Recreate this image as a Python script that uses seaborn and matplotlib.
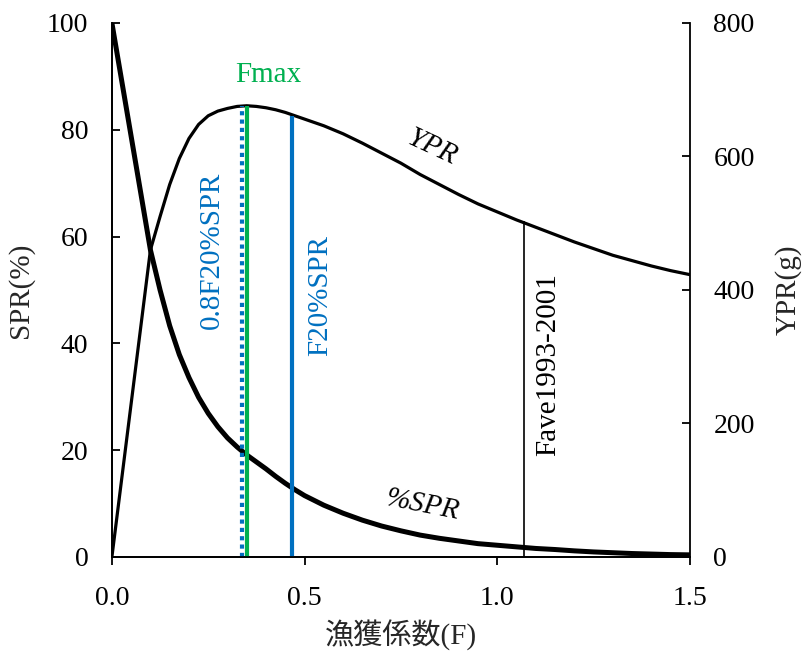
import numpy as np
import pandas as pd
import seaborn as sns
import matplotlib.pyplot as plt

# fishing mortality grid and curves
F = [0.0, 0.1, 0.125, 0.15, 0.175, 0.2, 0.225, 0.25, 0.275, 0.3, 0.325, 0.35, 0.375, 0.4,
     0.425, 0.45, 0.475, 0.5, 0.55, 0.6, 0.65, 0.7, 0.75, 0.8, 0.85, 0.9, 0.95, 1.0,
     1.05, 1.1, 1.15, 1.2, 1.25, 1.3, 1.35, 1.4, 1.45, 1.5]
spr = [100, 57.5, 50.0, 43.3, 37.9, 33.6, 29.9, 26.9, 24.4, 22.3, 20.6, 19.1, 17.8, 16.5,
       15.1, 13.8, 12.6, 11.5, 9.7, 8.2, 6.9, 5.8, 4.9, 4.1, 3.5, 3.0, 2.5, 2.2,
       1.9, 1.6, 1.4, 1.15, 0.95, 0.8, 0.65, 0.55, 0.45, 0.4]
ypr = [0, 460, 510, 558, 597, 627, 648, 661, 668, 672, 675, 676, 675, 673,
       670, 666, 661, 656, 646, 634, 620, 605, 590, 573, 558, 543, 529, 517,
       505, 494, 483, 472, 462, 452, 444, 436, 429, 423]

# reference points (F, YPR at the top of the line)
f_08f20 = 0.338
f_max = 0.351
f_20 = 0.468
f_ave = 1.07
top_08f20 = 676
top_max = 676
top_20 = 660
top_ave = 503

df = pd.DataFrame({"F": F, "SPR": spr, "YPR": ypr})

sns.set_theme(style="white")
plt.rcParams['font.family'] = ['Liberation Serif', 'Noto Sans CJK JP']
plt.rcParams['font.size'] = 20

blue = "#0070C0"
green = "#00B050"

fig = plt.figure(figsize=(8.05, 6.51), dpi=100)
ax = fig.add_axes([0.139, 0.1444, 0.718, 0.8203])
ax2 = ax.twinx()

sns.lineplot(data=df, x="F", y="SPR", ax=ax, color="black", linewidth=3.6)
sns.lineplot(data=df, x="F", y="YPR", ax=ax2, color="black", linewidth=2.3)

ax2.vlines(f_08f20, 0, top_08f20, color=blue, linewidth=3, linestyle=(0, (1, 1)))
ax2.vlines(f_max, 0, top_max, color=green, linewidth=3)
ax2.vlines(f_20, 0, top_20, color=blue, linewidth=3)
ax2.vlines(f_ave, 0, top_ave, color="black", linewidth=1.2)

ax.set_xlim(0, 1.5)
ax.set_ylim(0, 100)
ax2.set_ylim(0, 800)
ax.set_xticks([0, 0.5, 1.0, 1.5])
ax.set_xticklabels(["0.0", "0.5", "1.0", "1.5"])
ax.set_yticks([0, 20, 40, 60, 80, 100])
ax2.set_yticks([0, 200, 400, 600, 800])

for a in (ax, ax2):
    a.spines["top"].set_visible(False)
    for s in a.spines.values():
        s.set_color("black")
        s.set_linewidth(1.3)
ax.spines["right"].set_visible(False)

ax.tick_params(axis="y", direction="in", length=6, width=1.3, pad=17, labelsize=20, colors="black")
ax.tick_params(axis="x", direction="out", length=6, width=1.3, pad=15, labelsize=20, colors="black", bottom=True)
ax2.tick_params(axis="y", direction="in", length=6, width=1.3, pad=17, labelsize=20, colors="black", right=True)

ax.set_xlabel("漁獲係数(F)", fontsize=21, labelpad=6)
ax.set_ylabel("SPR(%)", fontsize=21, labelpad=9)
ax2.set_ylabel("YPR(g)", fontsize=21, labelpad=14)

ax.text(0.405, 90.3, "Fmax", color=green, fontsize=21, ha="center", va="center")
ax.text(0.26, 57.5, "0.8F20%SPR", color=blue, fontsize=21, rotation=90, ha="center", va="center")
ax.text(0.54, 49, "F20%SPR", color=blue, fontsize=21, rotation=90, ha="center", va="center")
ax.text(1.132, 36, "Fave1993-2001", color="black", fontsize=21, rotation=90, ha="center", va="center")
ax.text(0.831, 76.6, "YPR", color="black", fontsize=21, style="italic", rotation=-25, ha="center", va="center")
ax.text(0.805, 9.7, "%SPR", color="black", fontsize=21, style="italic", rotation=-11, ha="center", va="center")

fig.savefig("out.png", dpi=100)
